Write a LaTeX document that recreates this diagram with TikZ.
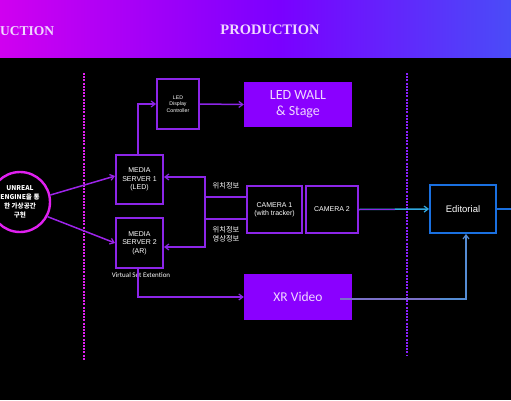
\documentclass[tikz,border=0pt]{standalone}
\usepackage{fontspec}
\setmainfont{Liberation Sans}
\newfontfamily\cjk{Noto Sans CJK KR}
\newfontfamily\calib{Carlito}
\newfontfamily\titlefont{Liberation Serif}
\usetikzlibrary{arrows.meta}
\definecolor{bpurple}{HTML}{8C25E8}
\definecolor{fpurple}{HTML}{8A00FF}
\definecolor{magline}{HTML}{E020F0}
\definecolor{dotpurple}{HTML}{8A20FF}
\definecolor{ebblue}{HTML}{1A70E0}
\definecolor{arrcyan}{HTML}{30A8E0}
\definecolor{lav}{HTML}{F0D8FF}
\definecolor{xrline}{HTML}{7A70C8}
\definecolor{bnleft}{HTML}{D000F0}
\definecolor{bnmid}{HTML}{7A00FF}
\definecolor{bnright}{HTML}{4A4CF8}
\tikzset{
  obox/.style={draw=bpurple, line width=1.9pt, fill=black, text=white, align=center, inner sep=0pt, font=\fontsize{7}{8.4}\selectfont},
  fbox/.style={fill=fpurple, text=lav, align=center, inner sep=0pt, font=\calib\fontsize{14}{16}\selectfont},
  conn/.style={draw=bpurple, line width=1.5pt, -{Straight Barb[length=4pt,width=6pt,line width=1.2pt]}},
  lbl/.style={text=white, font=\cjk\fontsize{7.3}{9}\selectfont, align=center, inner sep=0pt},
  dotline/.style={line width=1.8pt, dash pattern=on 2pt off 1.2pt}
}
\begin{document}
\begin{tikzpicture}[x=1pt,y=-1pt]
\useasboundingbox[fill=black] (0,0) rectangle (511,400);
% banner
\shade[left color=bnleft, right color=bnmid] (0,0) rectangle (281,57);
\shade[left color=bnmid, right color=bnright] (280,0) rectangle (511,57);
\node[anchor=base west, text=lav, font=\titlefont\bfseries\fontsize{13.5}{15}\selectfont, inner sep=0pt] (t1) at (0,35) {UCTION};
\node[anchor=base, text=lav, font=\titlefont\bfseries\fontsize{14.5}{16}\selectfont, inner sep=0pt] (t2) at (270,34) {PRODUCTION};
% dotted lines
\draw[dotline, draw=magline] (84,73) coordinate (d1a) -- (84,360) coordinate (d1b);
\draw[dotline, draw=dotpurple] (407,73) coordinate (d2a) -- (407,355) coordinate (d2b);
% nodes
\node[circle, draw=magline, line width=2.4pt, fill=black, minimum size=60pt, inner sep=0pt, text=white, align=center, font=\cjk\bfseries\fontsize{6.6}{9}\selectfont] (ue) at (20,202) {UNREAL\\ENGINE을 통\\한 가상공간\\구현};
\node[obox, minimum width=47pt, minimum height=49pt] (ms1) at (139.5,179.5) {MEDIA\\SERVER 1\\(LED)};
\node[obox, minimum width=47pt, minimum height=50pt] (ms2) at (139.5,243) {MEDIA\\SERVER 2\\(AR)};
\node[obox, minimum width=42pt, minimum height=50pt, font=\fontsize{5.2}{6.5}\selectfont] (ctrl) at (178,104) {LED\\Display\\Controller};
\node[fbox, minimum width=108pt, minimum height=45pt] (wall) at (298,104.5) {LED WALL\\\& Stage};
\node[obox, minimum width=55pt, minimum height=47pt] (cam1) at (274.5,209.5) {CAMERA 1\\(with tracker)};
\node[obox, minimum width=52pt, minimum height=47pt] (cam2) at (332,209.5) {CAMERA 2};
\node[obox, draw=ebblue, minimum width=66pt, minimum height=48pt, font=\fontsize{9.5}{11}\selectfont] (ed) at (463,209) {Editorial};
\node[fbox, minimum width=108pt, minimum height=46pt, font=\calib\fontsize{13.5}{16}\selectfont] (xr) at (298,297) {XR Video};
\node[text=white, font=\calib\fontsize{7}{8}\selectfont, inner sep=0pt] (vse) at (141,275) {Virtual Set Extention};
% labels
\node[lbl] (l1) at (226,186) {위치정보};
\node[lbl] (l2) at (226,234.5) {위치정보\\영상정보};
% connectors
\draw[conn, draw=bpurple!80!magline] (ue.13) -- ([yshift=3.5pt]ms1.west);
\draw[conn, draw=bpurple!80!magline] (ue.-28) -- (ms2.west);
\draw[conn] ([xshift=-1.5pt]ms1.north) |- (ctrl.west);
\draw[conn] (ctrl.east) -- (wall.west);
\draw[conn] ([yshift=-9.5pt]cam1.west) -- ++(-41,0) |- ([yshift=2.5pt]ms1.east);
\draw[conn] ([yshift=12.5pt]cam1.west) -- ++(-41,0) |- ([yshift=-4pt]ms2.east);
\draw[conn] ([xshift=-1.5pt]ms2.south) |- (xr.west);
\draw[conn, draw=arrcyan] (cam2.east) -- (ed.west);
\draw[line width=1.5pt, bpurple] (cam2.east) -- (395,209.5) coordinate (c2mid);
\draw[conn, draw=xrline!50!arrcyan] ([xshift=-12pt,yshift=-2pt]xr.east) -| ([xshift=3pt]ed.south);
\draw[line width=1.5pt, xrline] ([xshift=-12pt,yshift=-2pt]xr.east) -- (440,299) coordinate (xrmid);
\coordinate (redge) at (511,209);
\draw[line width=1.8pt, ebblue] (ed.east) -- (redge);
\end{tikzpicture}
\end{document}
